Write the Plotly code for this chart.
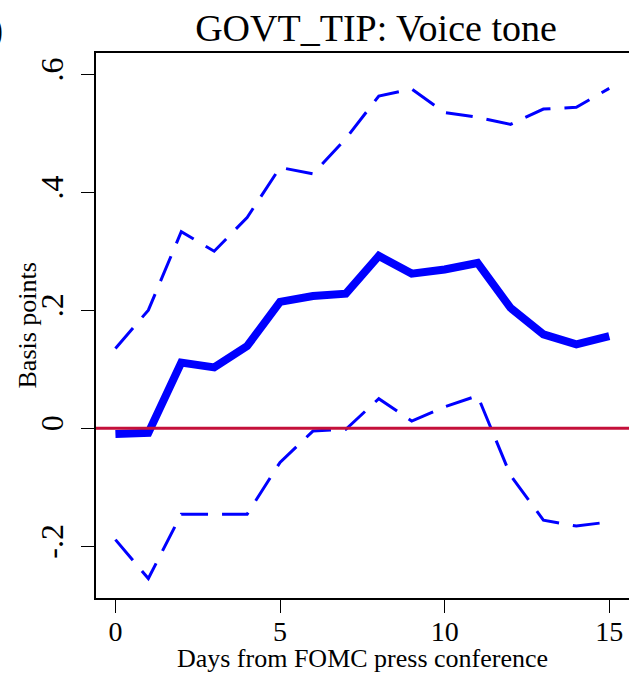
import plotly.graph_objects as go

days = list(range(16))
estimate = [-0.010, -0.008, 0.111, 0.103, 0.139, 0.214, 0.224, 0.228,
            0.292, 0.262, 0.269, 0.280, 0.204, 0.159, 0.142, 0.156]
upper = [0.135, 0.200, 0.333, 0.300, 0.357, 0.442, 0.431, 0.491,
         0.563, 0.575, 0.535, 0.527, 0.515, 0.541, 0.544, 0.576]
lower = [-0.189, -0.255, -0.146, -0.146, -0.146, -0.058, -0.005, -0.002,
         0.050, 0.012, 0.036, 0.055, -0.080, -0.156, -0.166, -0.159]

y_ticks = [-0.2, 0, 0.2, 0.4, 0.6]
y_tick_labels = ["-.2", "0", ".2", ".4", ".6"]
x_ticks = [0, 5, 10, 15]

FONT = "Liberation Serif, Times New Roman, serif"
BLUE = "#0000FF"
DASH = "27px,14px"

fig = go.Figure()
fig.add_trace(go.Scatter(x=days, y=upper, mode="lines",
                         line=dict(color=BLUE, width=3, dash=DASH),
                         showlegend=False, hoverinfo="skip"))
fig.add_trace(go.Scatter(x=days, y=lower, mode="lines",
                         line=dict(color=BLUE, width=3, dash=DASH),
                         showlegend=False, hoverinfo="skip"))
fig.add_trace(go.Scatter(x=days, y=estimate, mode="lines",
                         line=dict(color=BLUE, width=8),
                         showlegend=False))

fig.add_hline(y=0, line=dict(color="#C4103A", width=3), layer="above")

fig.update_layout(
    width=629, height=673,
    margin=dict(l=96, r=0, t=53, b=75, autoexpand=False),
    paper_bgcolor="white", plot_bgcolor="white",
    font=dict(family=FONT, color="black"),
    title=dict(text="GOVT_TIP: Voice tone", x=376 / 629, xanchor="center",
               y=1 - 28 / 673, yanchor="middle",
               font=dict(size=38, family=FONT, color="black")),
    annotations=[
        dict(text="(b)", xref="paper", yref="paper",
             x=(5 - 96) / 533, y=(598 - 30) / 545,
             xanchor="right", yanchor="middle", showarrow=False,
             font=dict(size=37, family=FONT, color="black")),
        dict(text="Basis points", xref="paper", yref="paper",
             x=(27 - 96) / 533, y=0.5, textangle=-90,
             xanchor="center", yanchor="middle", showarrow=False,
             font=dict(size=26, family=FONT, color="black")),
    ],
)

fig.update_xaxes(
    range=[-0.59, 15.6], tickvals=x_ticks, ticks="outside", ticklen=13,
    tickwidth=1.3, tickcolor="black", showline=True, mirror=True,
    linecolor="black", linewidth=2, showgrid=False, zeroline=False,
    tickfont=dict(size=28, family=FONT, color="black"),
    ticklabelstandoff=-6,
    title=dict(text="Days from FOMC press conference",
               font=dict(size=26, family=FONT, color="black"), standoff=7),
)
fig.update_yaxes(
    range=[-0.288, 0.636], tickvals=y_ticks, ticktext=y_tick_labels,
    tickangle=-90, ticks="outside", ticklen=13, tickwidth=1.3,
    tickcolor="black", showline=True, linecolor="black", linewidth=2,
    showgrid=False, zeroline=False,
    tickfont=dict(size=32, family=FONT, color="black"),
    ticklabelstandoff=5,
)

fig.write_html("out.html", config={"displayModeBar": False},
               post_script="document.body.style.margin='0';")
